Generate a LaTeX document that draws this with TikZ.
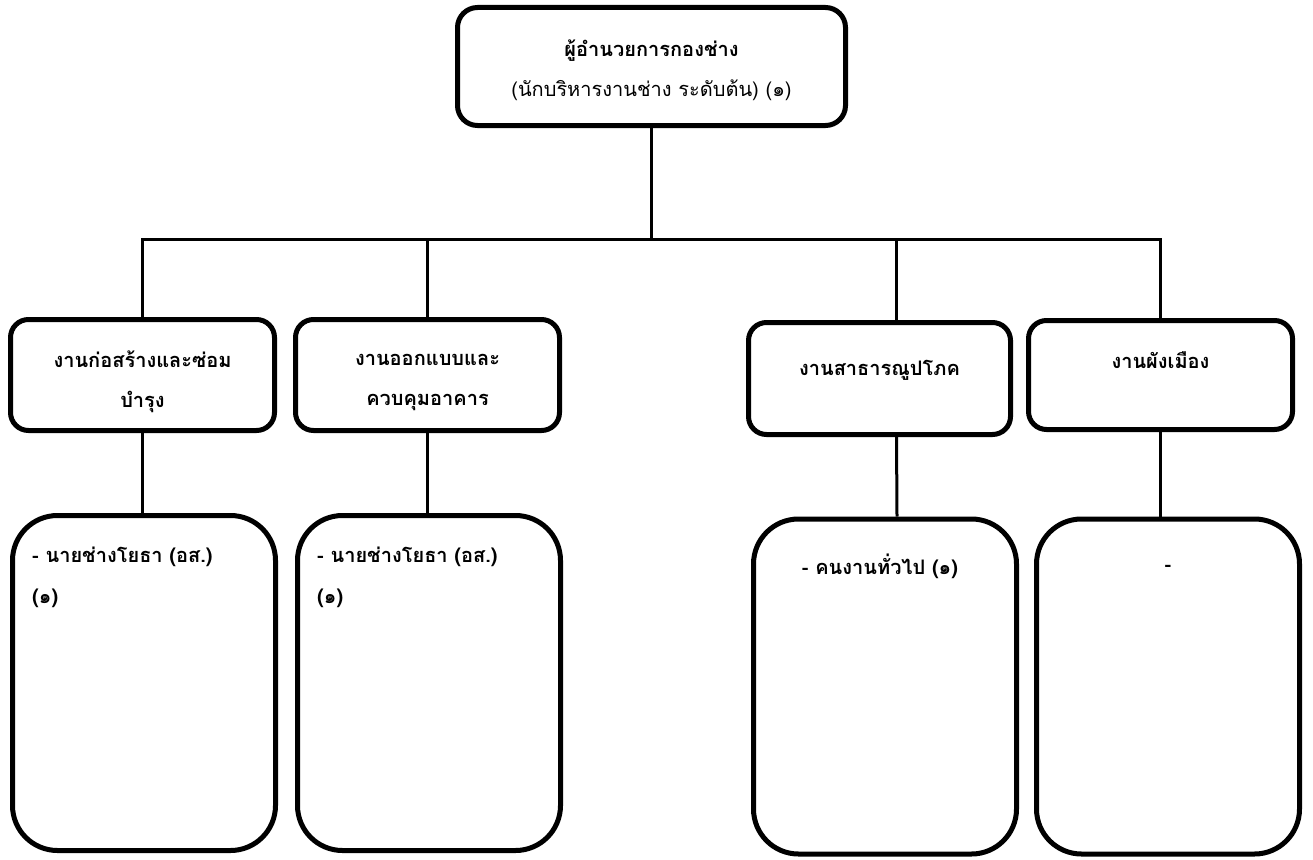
\documentclass[tikz,border=0pt]{standalone}
\usepackage{fontspec}
\setmainfont[Script=Thai]{Loma}
\usetikzlibrary{positioning}

\tikzset{
  headbox/.style={draw, line width=5pt, rounded corners=20pt, minimum width=388pt, minimum height=118pt},
  unitbox/.style={draw, line width=5pt, rounded corners=18pt, minimum width=264pt, minimum height=111pt},
  staffbox/.style={draw, line width=5pt, rounded corners=45pt, minimum width=263pt, minimum height=335pt},
  boxtext/.style={align=center, inner sep=0pt, font=\bfseries\fontsize{20}{40}\selectfont},
  stafftext/.style={align=left, inner sep=0pt, font=\bfseries\fontsize{20}{41}\selectfont},
  link/.style={line width=3pt}
}

\begin{document}
\begin{tikzpicture}[x=1pt,y=-1pt]
    \useasboundingbox (0,0) rectangle (1313,859);

    % ผู้อำนวยการกองช่าง
    \node[headbox] (head) at (651.5,66.5) {};
    \node[boxtext, font=\fontsize{20}{40}\selectfont] (thead) at ([yshift=-4pt]head.center) {\textbf{ผู้อำนวยการกองช่าง}\\(นักบริหารงานช่าง ระดับต้น) (๑)};
    \coordinate (bus) at (651.5,239);

    % งาน
    \node[unitbox] (build) at (142.5,375) {};
    \node[unitbox] (design) at (427.5,375) {};
    \node[unitbox, minimum width=262pt, minimum height=112pt] (public) at (879.5,378.5) {};
    \node[unitbox, minimum height=109pt] (city) at (1160.5,375) {};
    \node[boxtext] (tbuild) at ([yshift=-7pt]build.center) {งานก่อสร้างและซ่อม\\บำรุง};
    \node[boxtext] (tdesign) at ([yshift=-7pt]design.center) {งานออกแบบและ\\ควบคุมอาคาร};
    \node[boxtext] (tpublic) at ([yshift=8pt]public.center) {งานสาธารณูปโภค};
    \node[boxtext] (tcity) at ([yshift=15pt]city.center) {งานผังเมือง};

    % อัตรากำลัง
    \node[staffbox] (sbuild) at (144,683) {};
    \node[staffbox] (sdesign) at (429,683) {};
    \node[staffbox] (spublic) at (885,686.5) {};
    \node[staffbox] (scity) at (1168,686.5) {};
    \node[stafftext, below right=34pt and 22pt of sbuild.north west] (tsbuild) {- นายช่างโยธา (อส.)\\(๑)};
    \node[stafftext, below right=34pt and 22pt of sdesign.north west] (tsdesign) {- นายช่างโยธา (อส.)\\(๑)};
    \node[stafftext] (tspublic) at ([xshift=-5pt,yshift=120pt]spublic.center) {- คนงานทั่วไป (๑)};
    \node[stafftext] (tscity) at ([yshift=118pt]scity.center) {-};

    % เส้นเชื่อม
    \draw[link] (head.south) -- (bus);
    \draw[link] (build.north) -- (build.north |- bus) -- (city.north |- bus) -- (city.north);
    \draw[link] (design.north) -- (design.north |- bus);
    \draw[link] ([xshift=17pt]public.north) -- ([xshift=17pt]public.north |- bus);
    \draw[link] (build.south) -- (sbuild.north -| build.south);
    \draw[link] (design.south) -- (sdesign.north -| design.south);
    \draw[link] ([xshift=17pt]public.south) -- ([xshift=12pt]spublic.north);
    \draw[link] (city.south) -- (scity.north -| city.south);
\end{tikzpicture}
\end{document}
